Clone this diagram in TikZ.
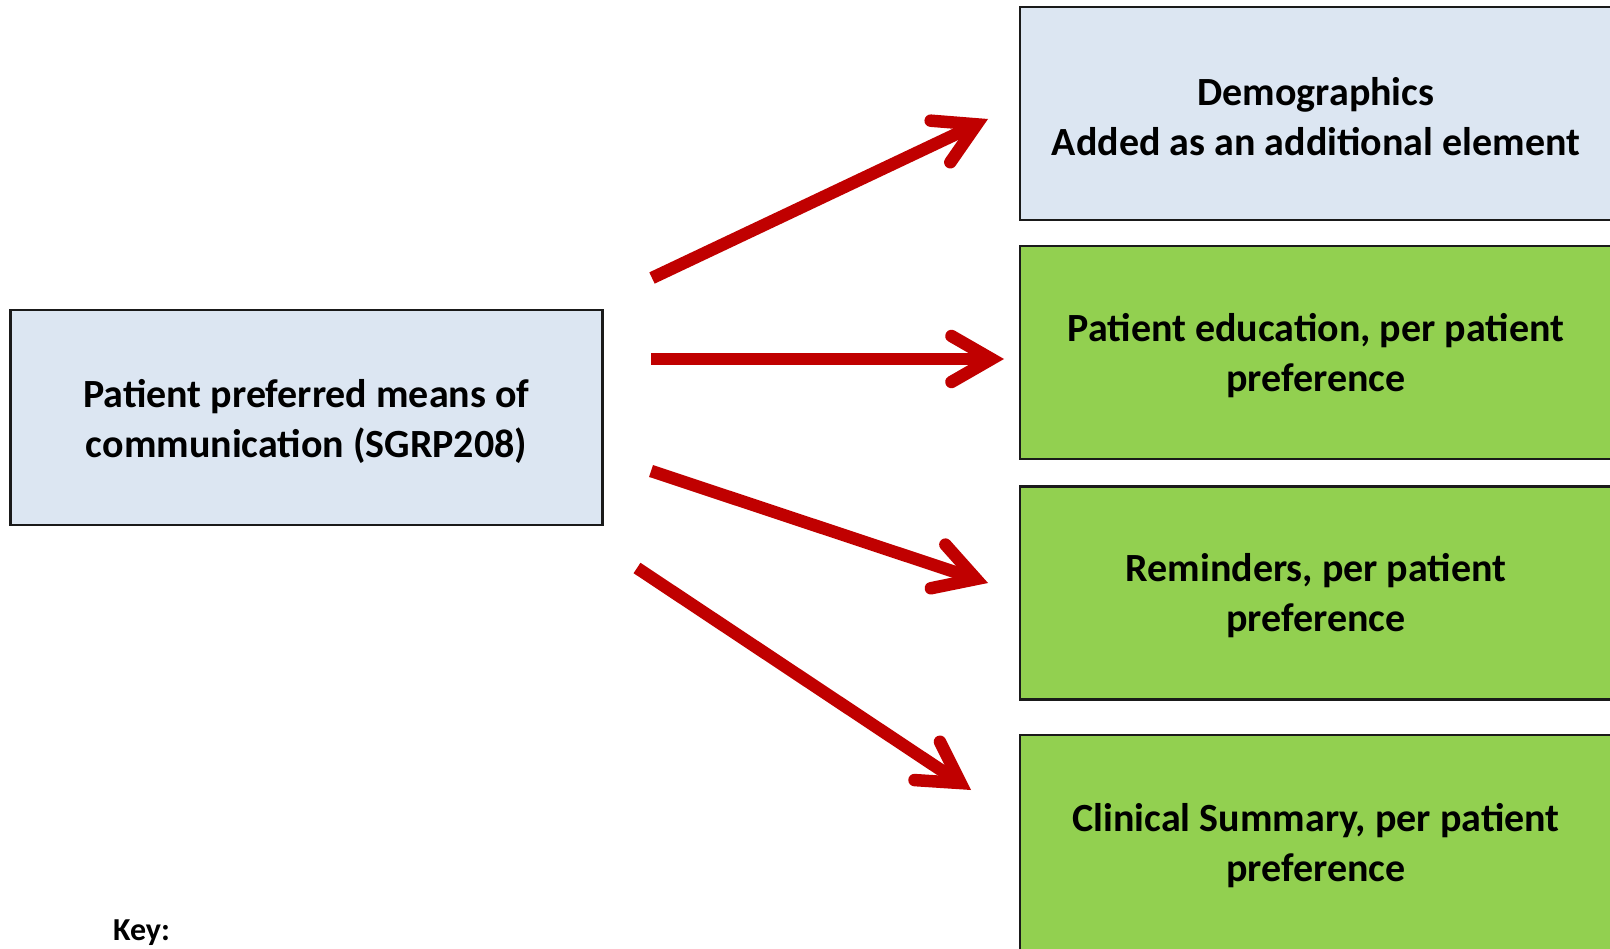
\documentclass[tikz,border=0pt]{standalone}
\usepackage{fontspec}
\setmainfont{Carlito}
\usetikzlibrary{arrows.meta}

\definecolor{paleblue}{HTML}{DCE6F2}
\definecolor{leafgreen}{HTML}{92D050}
\definecolor{arrowred}{HTML}{C00000}
\definecolor{edgegray}{HTML}{1A1A1A}

\tikzset{
  box/.style={draw=edgegray, line width=2.4pt, minimum width=592pt,
    minimum height=213pt, inner sep=0pt},
  bluebox/.style={box, fill=paleblue},
  greenbox/.style={box, fill=leafgreen},
  boxtext/.style={align=center, inner sep=0pt,
    font=\bfseries\fontsize{40}{50}\selectfont},
  arr/.style={draw=arrowred, line width=12.5pt, line cap=butt,
    -{Straight Barb[length=40pt, width=46pt, line cap=round, line join=miter]}}
}

\begin{document}
\begin{tikzpicture}[x=1pt, y=-1pt]
  \clip (0,0) rectangle (1610,949);
  \fill[white] (0,0) rectangle (1610,949);

  % source element
  \node[bluebox, minimum height=215pt] (src) at (306.5,417.5) {};
  \node[boxtext] (src-t) at ([yshift=-3.5pt]src.center)
    {Patient preferred means of\\communication (SGRP208)};

  % target elements
  \node[bluebox]  (demo)   at (1316,113.5) {};
  \node[greenbox] (edu)    at (1316,352.5) {};
  \node[greenbox] (remind) at (1316,593) {};
  \node[greenbox, minimum height=220pt] (summ) at (1316,845) {};

  \node[boxtext] (demo-t)   at ([yshift=-3pt]demo.center)
    {Demographics\\Added as an additional element};
  \node[boxtext] (edu-t)    at ([yshift=-3.5pt]edu.center)
    {Patient education, per patient\\preference};
  \node[boxtext] (remind-t) at ([yshift=-2.5pt]remind.center)
    {Reminders, per patient\\preference};
  \node[boxtext] (summ-t)   at ([yshift=-1pt]summ.center)
    {Clinical Summary, per patient\\preference};

  % key label
  \node[anchor=north west, inner sep=0pt, font=\bfseries\fontsize{32}{38}\selectfont]
    (key) at (113,920) {Key:};

  % arrow end points
  \coordinate (a1s) at (652,278);  \coordinate (a1e) at (988,119);
  \coordinate (a2s) at (651,359);  \coordinate (a2e) at (1004,359);
  \coordinate (a3s) at (651,471);  \coordinate (a3e) at (988,583);
  \coordinate (a4s) at (637,568);  \coordinate (a4e) at (971,790);

  \draw[arr] (a1s) -- (a1e);
  \draw[arr] (a2s) -- (a2e);
  \draw[arr] (a3s) -- (a3e);
  \draw[arr] (a4s) -- (a4e);
\end{tikzpicture}
\end{document}
